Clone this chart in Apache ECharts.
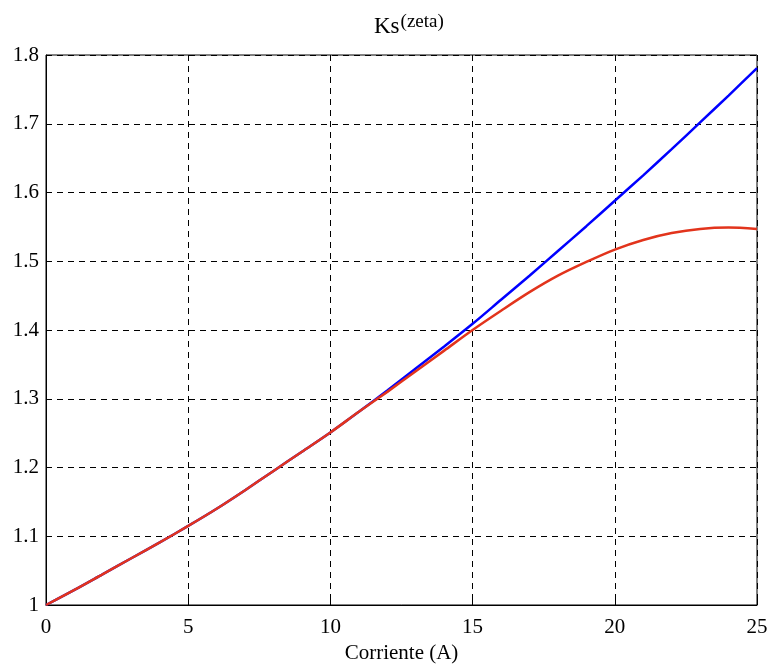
<!DOCTYPE html>
<html>
<head>
<meta charset="utf-8">
<script src="https://cdn.jsdelivr.net/npm/echarts@6/dist/echarts.min.js"></script>
<style>
  html, body { margin: 0; padding: 0; background: #fff; }
  #chart { width: 768px; height: 664px; }
</style>
</head>
<body>
<div id="chart"></div>
<script>
// current (A)
const corriente = [0, 1, 2, 3, 4, 5, 6, 7, 8, 9, 10, 11, 12, 13, 14, 15, 16, 17, 18, 19, 20, 21, 22, 23, 24, 25]
// blue curve (linear model)
const ksLineal = [1.000, 1.022, 1.045, 1.068, 1.091, 1.115, 1.140, 1.167, 1.195, 1.223, 1.251, 1.281, 1.312, 1.344, 1.376, 1.409, 1.444, 1.479, 1.515, 1.551, 1.588, 1.625, 1.663, 1.702, 1.741, 1.781]
// red curve (saturating)
const ksSaturado = [1.000, 1.022, 1.045, 1.068, 1.091, 1.115, 1.140, 1.167, 1.195, 1.223, 1.251, 1.281, 1.310, 1.340, 1.370, 1.400, 1.428, 1.455, 1.479, 1.499, 1.517, 1.531, 1.541, 1.547, 1.549, 1.547]

const font = '"Liberation Serif", "DejaVu Serif", serif'

const chart = echarts.init(document.getElementById('chart'))

const toPairs = (ys) => corriente.map((x, i) => [x, ys[i]])

const gridLine = { show: true, lineStyle: { color: '#000', type: [6, 5], width: 1 } }

chart.setOption({
  animation: false,
  backgroundColor: '#fff',
  title: {
    text: 'Ks{sup|(zeta)}',
    left: 369,
    top: 8,
    textStyle: {
      fontFamily: font,
      fontSize: 23,
      fontWeight: 'normal',
      color: '#000',
      rich: {
        sup: { fontFamily: font, fontSize: 19, color: '#000', verticalAlign: 'top', padding: [0, 0, 9, 1] },
      },
    },
  },
  grid: {
    left: 46,
    right: 11,
    top: 55,
    bottom: 59,
    outerBoundsMode: 'none',
    containLabel: false,
    show: true,
    borderColor: '#000',
    borderWidth: 1,
  },
  xAxis: {
    type: 'value',
    min: 0,
    max: 25,
    interval: 5,
    name: 'Corriente (A)',
    nameLocation: 'middle',
    nameGap: 36,
    nameTextStyle: { fontFamily: font, fontSize: 21, color: '#000' },
    axisLine: { show: true, lineStyle: { color: '#000', width: 1 } },
    axisTick: { show: true, inside: true, length: 6, lineStyle: { color: '#000' } },
    axisLabel: { fontFamily: font, fontSize: 21, color: '#000', margin: 12 },
    splitLine: gridLine,
  },
  yAxis: {
    type: 'value',
    min: 1,
    max: 1.8,
    interval: 0.1,
    axisLine: { show: true, lineStyle: { color: '#000', width: 1 } },
    axisTick: { show: true, inside: true, length: 6, lineStyle: { color: '#000' } },
    axisLabel: {
      fontFamily: font,
      fontSize: 21,
      color: '#000',
      margin: 7,
      formatter: (v) => String(Math.round(v * 10) / 10),
    },
    splitLine: gridLine,
  },
  series: [
    {
      type: 'line',
      data: toPairs(ksLineal),
      smooth: 0.3,
      symbol: 'none',
      lineStyle: { color: '#0000ff', width: 2.5 },
    },
    {
      type: 'line',
      data: toPairs(ksSaturado),
      smooth: 0.3,
      symbol: 'none',
      lineStyle: { color: '#e2341c', width: 2.5 },
    },
  ],
})
</script>
</body>
</html>
